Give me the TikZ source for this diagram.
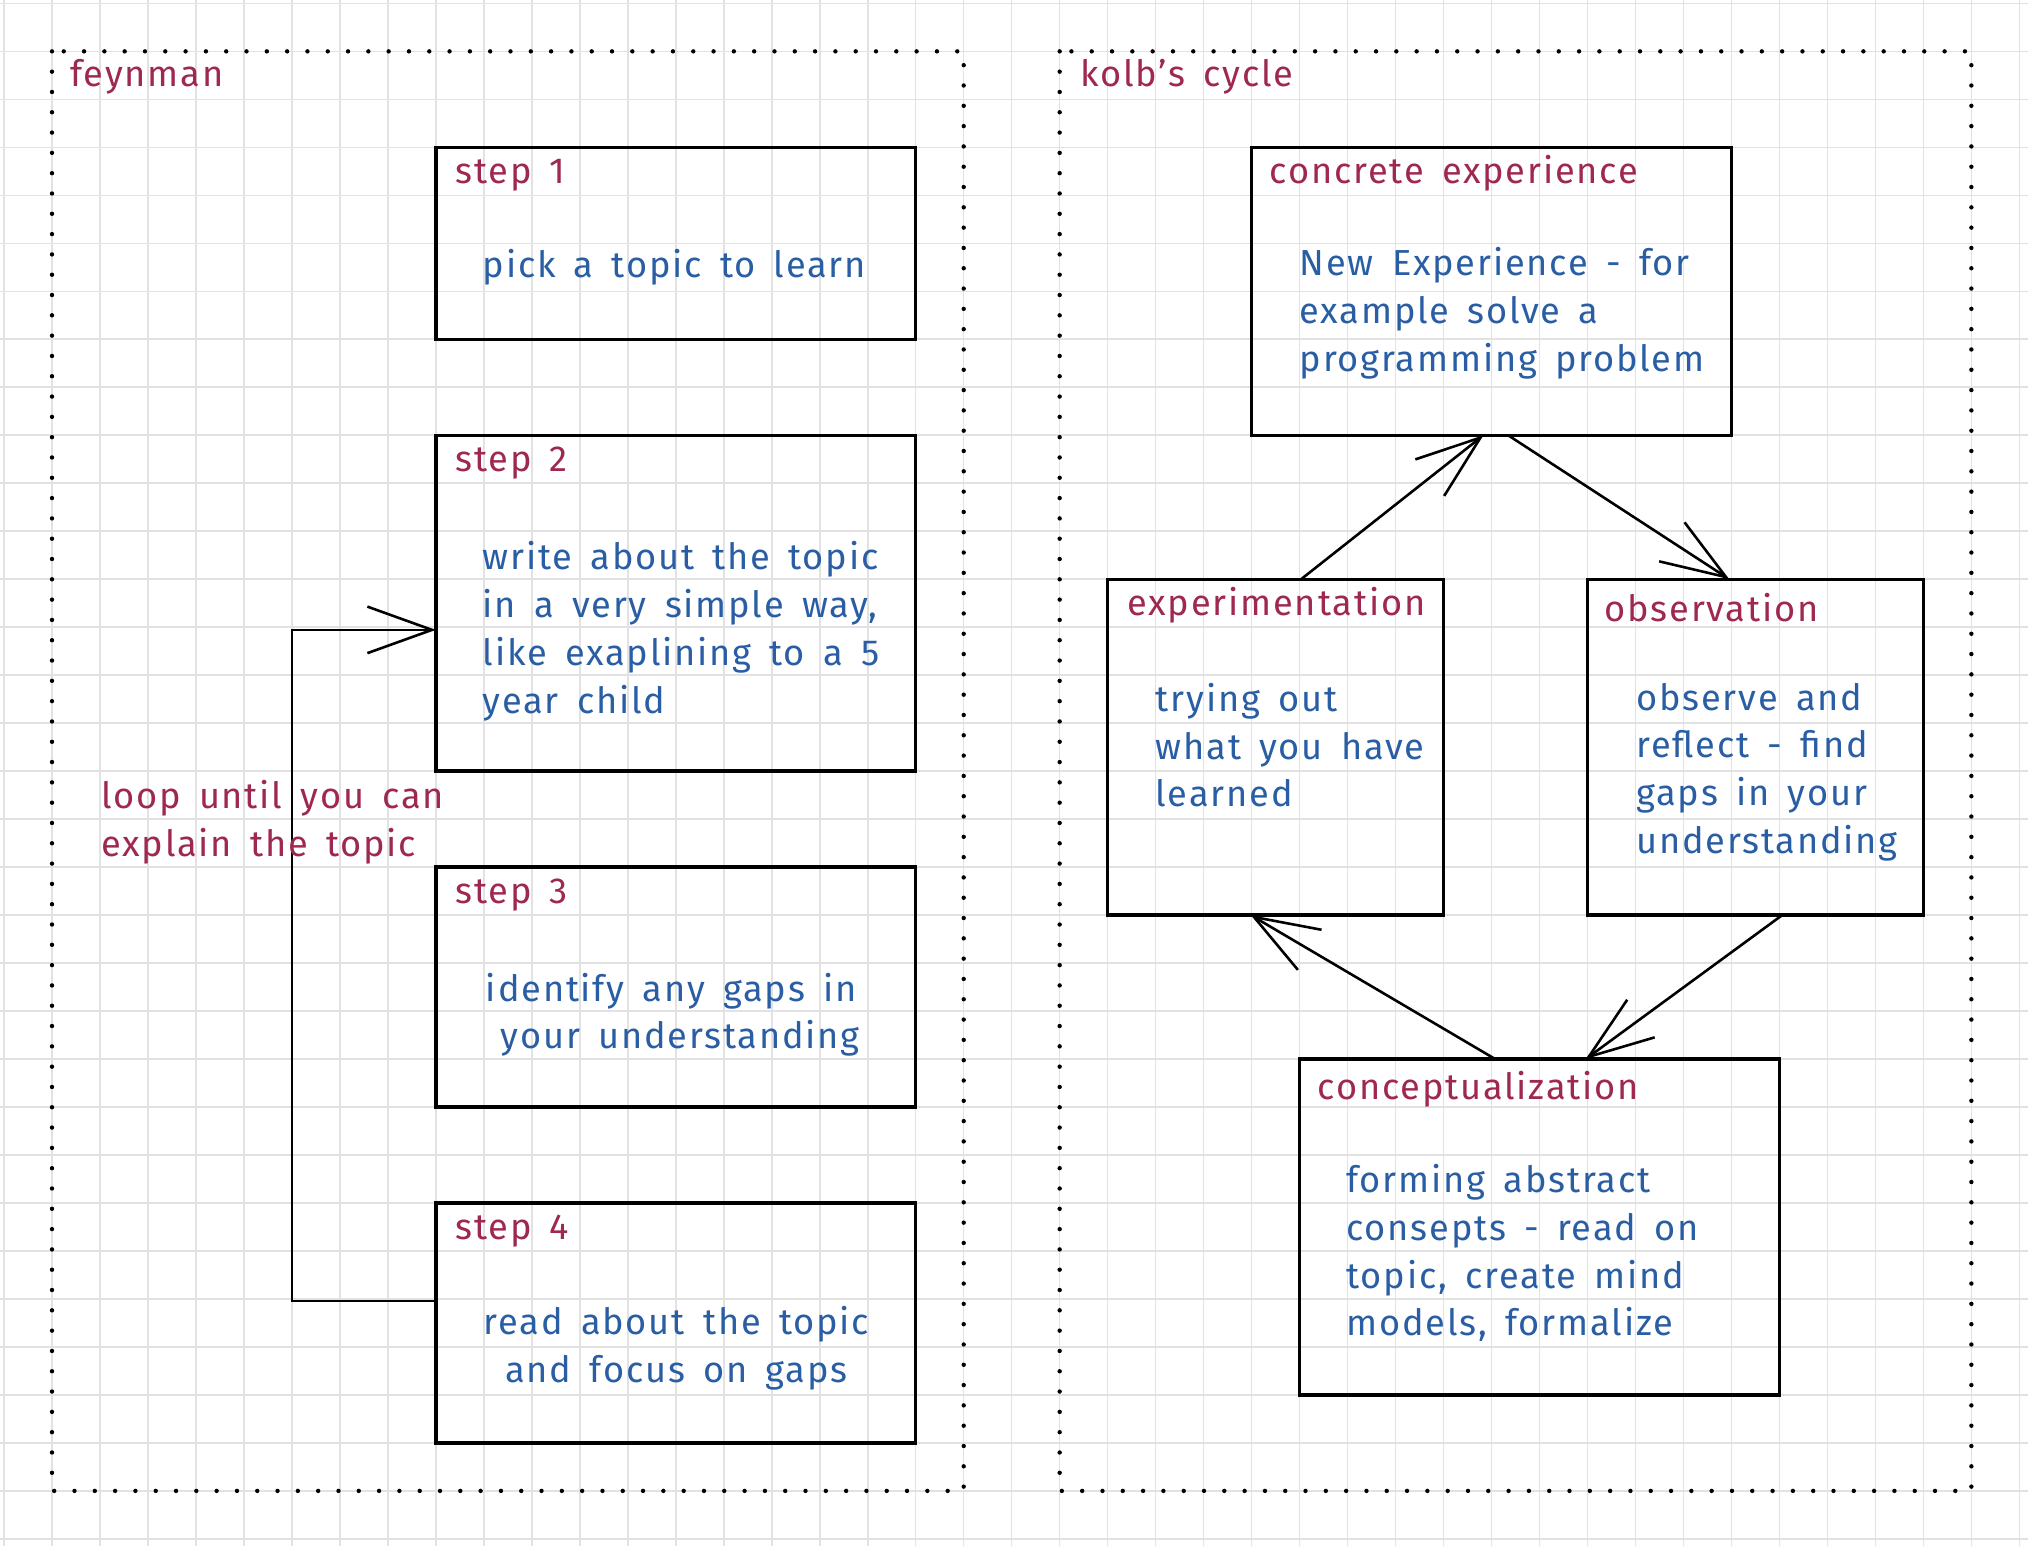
\documentclass[tikz,border=0pt]{standalone}
\usepackage{fontspec}
\setmainfont{Fira Sans}[LetterSpace=5,WordSpace=1.6]
\usetikzlibrary{arrows.meta}
\definecolor{gridc}{RGB}{226,226,226}
\definecolor{lab}{RGB}{158,40,78}
\definecolor{bod}{RGB}{42,94,164}
\begin{document}
\begin{tikzpicture}[x=1pt,y=-1pt,
  hand/.style={font=\fontsize{28}{37}\selectfont},
  box/.style={draw=black, line width=2.6pt, anchor=north west, inner sep=0pt, outer sep=0pt},
  ttl/.style={hand, anchor=base west, inner sep=0pt, text=lab},
  bodyl/.style={hand, anchor=north west, inner sep=0pt, text=bod, align=left},
  bodyc/.style={hand, anchor=north, inner sep=0pt, text=bod, align=center},
  frame/.style={draw=black, line width=3.4pt, line cap=round, dash pattern=on 0pt off 15.7pt},
  conn/.style={draw=black, line width=2pt, -{Straight Barb[length=50pt,width=36pt,line width=2pt]}}
]
\useasboundingbox (0,0) rectangle (1568,1195);
\fill[white] (0,0) rectangle (1568,1195);
% grid
\foreach \i in {0,...,42} \draw[gridc, line width=1.2pt] (3.1+\i*37.1,0) -- (3.1+\i*37.1,1195);
\foreach \j in {0,...,32} \draw[gridc, line width=1.2pt] (0,2.6+\j*37.1) -- (1568,2.6+\j*37.1);
% frames
\draw[frame] (40.2,39.7) rectangle (745.1,1152.7);
\draw[frame] (819.3,39.7) rectangle (1524.2,1152.7);
\node[ttl] (fey) at (54,66.5) {feynman};
\node[ttl] (kolb) at (835,66.5) {kolb's cycle};
% feynman boxes
\node[box, minimum width=371pt, minimum height=148.4pt] (s1) at (337,113.9) {};
\node[box, minimum width=371pt, minimum height=259.5pt] (s2) at (337,336.5) {};
\node[box, minimum width=371pt, minimum height=185.5pt] (s3) at (337,670.4) {};
\node[box, minimum width=371pt, minimum height=185.5pt] (s4) at (337,930.1) {};
\node[ttl] (s1t) at ([shift={(15,28)}]s1.north west) {step 1};
\node[ttl] (s2t) at ([shift={(15,28)}]s2.north west) {step 2};
\node[ttl] (s3t) at ([shift={(15,28)}]s3.north west) {step 3};
\node[ttl] (s4t) at ([shift={(15,28)}]s4.north west) {step 4};
\node[ttl, text=bod] (s1b) at ([shift={(36,101)}]s1.north west) {pick a topic to learn};
\node[bodyl] (s2b) at ([shift={(36,82)}]s2.north west) {write about the topic\\in a very simple way,\\like exaplining to a 5\\year child};
\node[bodyc] (s3b) at (519,752) {identify any gaps in\\ \hspace*{14pt}your understanding};
\node[bodyc] (s4b) at (523,1010) {read about the topic\\and focus on gaps};
% loop
\draw[conn] (s4.west |- 0,1006) -| (225.7,487) -- (s2.west |- 0,487);
\node[hand, anchor=north west, inner sep=0pt, text=lab, align=left] (loop) at (78,603) {loop until you can\\explain the topic};
% kolb boxes
\node[box, minimum width=371pt, minimum height=222.6pt] (ce) at (967.7,113.9) {};
\node[box, minimum width=259.6pt, minimum height=259.7pt] (ex) at (856.4,447.8) {};
\node[box, minimum width=259.6pt, minimum height=259.7pt] (ob) at (1227.4,447.8) {};
\node[box, minimum width=371pt, minimum height=259.7pt] (co) at (1004.8,818.8) {};
\node[ttl] (cet) at ([shift={(14,28)}]ce.north west) {concrete experience};
\node[ttl] (ext) at ([shift={(15,28)}]ex.north west) {experimentation};
\node[ttl] (obt) at ([shift={(13,33)}]ob.north west) {observation};
\node[ttl] (cot) at ([shift={(14,31)}]co.north west) {conceptualization};
\node[bodyl] (ceb) at ([shift={(37,77)}]ce.north west) {New Experience - for\\example solve a\\programming problem};
\node[bodyl] (exb) at ([shift={(37,80)}]ex.north west) {trying out\\what you have\\learned};
\node[bodyl] (obb) at ([shift={(37.6,80)}]ob.north west) {observe and\\reflect - find\\gaps in your\\understanding};
\node[bodyl] (cob) at ([shift={(36,81)}]co.north west) {forming abstract\\consepts - read on\\topic, create mind\\models, formalize};
% cycle arrows
\draw[conn] (ex.north -| 1006,0) -- (ce.south -| 1147,0);
\draw[conn] (ce.south -| 1166,0) -- (ob.north -| 1337,0);
\draw[conn] (ob.south -| 1378,0) -- (co.north -| 1226,0);
\draw[conn] (co.north -| 1156,0) -- (ex.south -| 967,0);
\end{tikzpicture}
\end{document}
